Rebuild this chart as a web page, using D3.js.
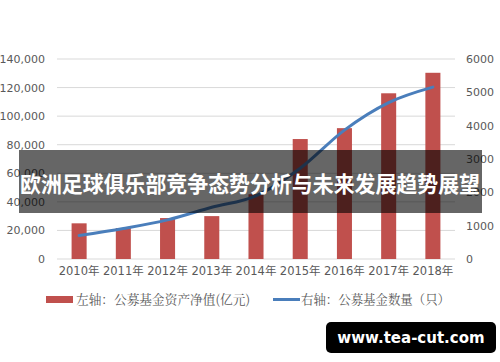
<!DOCTYPE html>
<html>
<head>
<meta charset="utf-8">
<script src="https://cdn.jsdelivr.net/npm/d3@7"></script>
<style>
  body { margin: 0; background: #fff; }
  svg { display: block; }
</style>
</head>
<body>
<svg id="chart" width="500" height="362"></svg>
<script>
// data
const years = ["2010年", "2011年", "2012年", "2013年", "2014年", "2015年", "2016年", "2017年", "2018年"];
const netAssets = [24972, 21680, 28661, 30021, 45354, 83971, 91593, 115997, 130347];
const fundCount = [704, 914, 1173, 1552, 1897, 2722, 3867, 4692, 5156];
const leftTicks = [0, 20000, 40000, 60000, 80000, 100000, 120000, 140000];
const rightTicks = [0, 1000, 2000, 3000, 4000, 5000, 6000];
const legendLabels = ["左轴：公募基金资产净值(亿元)", "右轴：公募基金数量（只）"];
const title = "欧洲足球俱乐部竞争态势分析与未来发展趋势展望";
const watermark = "www.tea-cut.com";

const svg = d3.select("#chart");
const plot = { left: 57, right: 455, top: 59, bottom: 259 };
const barColor = "#c0504d", lineColor = "#4a7ebb", textColor = "#595959";

let x = d3.scaleBand().domain(years).range([plot.left, plot.right]).paddingInner(0.66).paddingOuter(0.33);
let yL = d3.scaleLinear().domain([0, 140000]).range([plot.bottom, plot.top]);
let yR = d3.scaleLinear().domain([0, 6000]).range([plot.bottom, plot.top]);

// gridlines
svg.append("g")
    .selectAll("line")
    .data(leftTicks)
    .join("line")
    .attr("x1", plot.left).attr("x2", plot.right)
    .attr("y1", d => yL(d)).attr("y2", d => yL(d))
    .attr("stroke", "#d9d9d9")
    .attr("stroke-width", 1);

// left axis
let gL = svg.append("g")
    .attr("transform", `translate(${plot.left - 10},0)`)
    .call(d3.axisLeft(yL).tickValues(leftTicks).tickSize(0).tickPadding(2).tickFormat(d3.format(",")));
gL.select(".domain").remove();
gL.selectAll("text").attr("fill", textColor).style("font", "11px 'DejaVu Sans', sans-serif");

// right axis
let gR = svg.append("g")
    .attr("transform", `translate(${plot.right + 8},0)`)
    .call(d3.axisRight(yR).tickValues(rightTicks).tickSize(0).tickPadding(3).tickFormat(d3.format("d")));
gR.select(".domain").remove();
gR.selectAll("text").attr("fill", textColor).style("font", "11px 'DejaVu Sans', sans-serif");

// x axis
let gX = svg.append("g")
    .attr("transform", `translate(0,${plot.bottom + 8})`)
    .call(d3.axisBottom(x).tickSize(0).tickPadding(0));
gX.select(".domain").remove();
gX.selectAll("text").attr("fill", textColor).style("font", "11.5px 'DejaVu Sans', 'Noto Sans CJK SC', sans-serif");

// bars
svg.append("g")
    .selectAll("rect")
    .data(netAssets)
    .join("rect")
    .attr("x", (d, i) => x(years[i]))
    .attr("width", x.bandwidth())
    .attr("y", d => yL(d))
    .attr("height", d => plot.bottom - yL(d))
    .attr("fill", barColor);

// line
let line = d3.line()
    .x((d, i) => x(years[i]) + x.bandwidth() / 2)
    .y(d => yR(d))
    .curve(d3.curveMonotoneX);
svg.append("path")
    .datum(fundCount)
    .attr("d", line)
    .attr("fill", "none")
    .attr("stroke", lineColor)
    .attr("stroke-width", 3)
    .attr("stroke-linecap", "round");

// legend
let lg = svg.append("g").style("font", "13px 'Noto Serif CJK SC', 'Noto Sans CJK SC', serif").attr("fill", textColor);
lg.append("rect").attr("x", 46).attr("y", 296).attr("width", 27).attr("height", 7).attr("fill", barColor);
lg.append("text").attr("x", 76).attr("y", 304)
    .attr("textLength", 174).attr("lengthAdjust", "spacingAndGlyphs")
    .text(legendLabels[0]);
lg.append("line").attr("x1", 273).attr("x2", 300).attr("y1", 299.5).attr("y2", 299.5)
    .attr("stroke", lineColor).attr("stroke-width", 3);
lg.append("text").attr("x", 301).attr("y", 304)
    .attr("textLength", 149).attr("lengthAdjust", "spacingAndGlyphs")
    .text(legendLabels[1]);

// title banner
svg.append("rect")
    .attr("x", 19).attr("y", 150).attr("width", 463).attr("height", 63)
    .attr("fill", "#000").attr("opacity", 0.6);
svg.append("text")
    .attr("x", 20).attr("y", 186)
    .attr("dominant-baseline", "middle")
    .attr("fill", "#fff")
    .attr("textLength", 460).attr("lengthAdjust", "spacingAndGlyphs")
    .style("font", "bold 22px 'Noto Sans CJK SC', sans-serif")
    .text(title);

// watermark
svg.append("rect")
    .attr("x", 326).attr("y", 322).attr("width", 170).attr("height", 31).attr("rx", 5)
    .attr("fill", "#000");
svg.append("text")
    .attr("x", 411).attr("y", 338)
    .attr("text-anchor", "middle")
    .attr("dominant-baseline", "middle")
    .attr("fill", "#fff")
    .style("font", "bold 15px 'DejaVu Sans', sans-serif")
    .text(watermark);
</script>
</body>
</html>
